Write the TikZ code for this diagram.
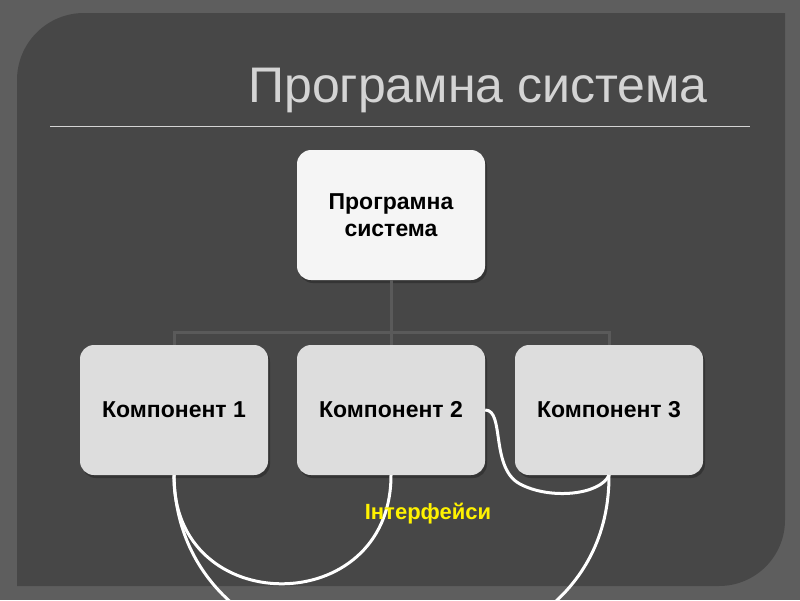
\documentclass[tikz,border=0pt]{standalone}
\usepackage{fontspec}
\setmainfont{Liberation Sans}
\usetikzlibrary{shadows}
\begin{document}
\begin{tikzpicture}[x=1pt,y=-1pt,
 box/.style={draw=none,fill=boxfill,rounded corners=14pt,minimum width=188pt,minimum height=130pt,font=\bfseries\fontsize{23}{27}\selectfont,text=black,align=center,drop shadow={shadow xshift=2pt,shadow yshift=-3pt,fill=black!80,opacity=0.9}},
 conn/.style={draw=linegray,line width=3pt},
 iface/.style={draw=white,line width=3pt}]
\definecolor{outerbg}{HTML}{5E5E5E}
\definecolor{panel}{HTML}{474747}
\definecolor{boxfill}{HTML}{DDDDDD}
\definecolor{linegray}{HTML}{5A5A5A}
\definecolor{titlegray}{HTML}{D4D4D4}
\useasboundingbox (0,0) rectangle (800,600);
\fill[outerbg] (0,0) rectangle (800,600);
\fill[panel] (17,300) [rounded corners=67pt] -- (17,13) -- (400,13) [sharp corners] -- (785,13) -- (785,300) [rounded corners=66pt] -- (785,586) -- (400,586) [sharp corners] -- (17,586) -- cycle;
\node[text=titlegray,font=\fontsize{50}{54}\selectfont] (title) at (478,90) {Програмна система};
\draw[titlegray,line width=1pt] (50,126) -- (750,126);
\node[box,fill=white!92!gray] (top) at (391,215) {Програмна\\система};
\node[box] (k1) at (174,410) {Компонент 1};
\node[box] (k2) at (391,410) {Компонент 2};
\node[box] (k3) at (609,410) {Компонент 3};
\coordinate (hj) at (391,333);
\draw[conn] (top.south) -- (hj);
\draw[conn] (k1.north) -- ++(0,-12) -| (k3.north);
\draw[conn] (hj) -- (k2.north);
\begin{scope}
\clip (0,0) rectangle (800,600);
\draw[iface] (k1.south) .. controls (172,620) and (391,620) .. (k2.south);
\draw[iface] (k1.south) .. controls (178,720) and (610,720) .. (k3.south);
\draw[iface] (k2.east) .. controls (505,410) and (490,468) .. (520,484) .. controls (550,500) and (600,495) .. (k3.south);
\end{scope}
\node[text=yellow,font=\bfseries\fontsize{22}{26}\selectfont] (lbl) at (428,514) {Інтерфейси};
\end{tikzpicture}
\end{document}
